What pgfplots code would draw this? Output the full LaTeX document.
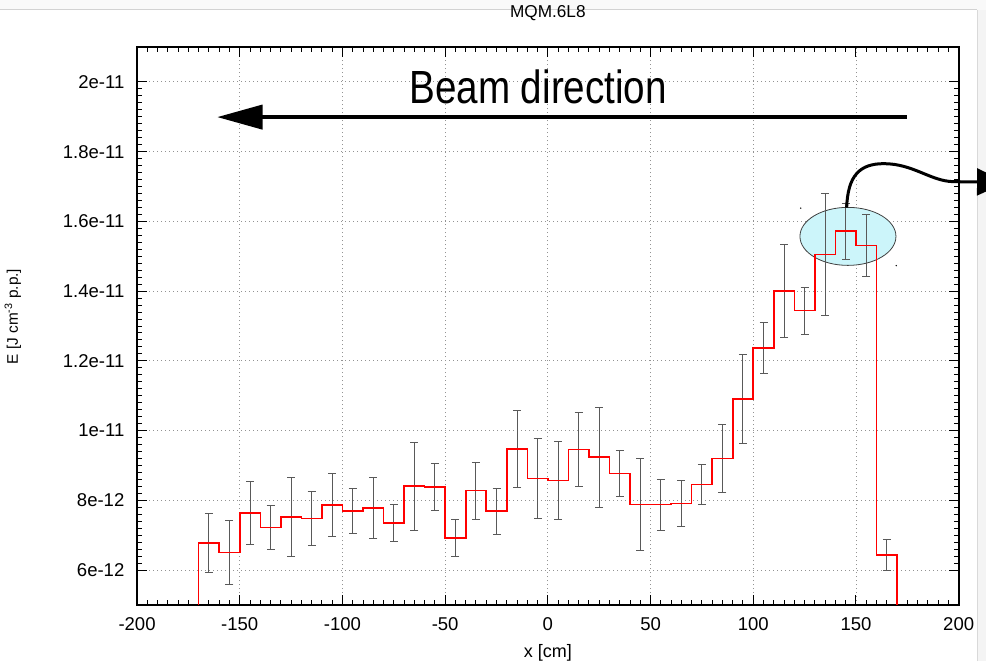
\documentclass[border=0pt]{standalone}
\usepackage{fontspec}
\setmainfont{Liberation Sans}
\usepackage{graphicx}
\usepackage{pgfplots}
\usepackage{pgfplotstable}
\pgfplotsset{compat=1.18}
\usetikzlibrary{arrows.meta}
\definecolor{ellfill}{RGB}{204,245,250}

% energy density in units of 1e-12 J cm^-3 p.p.
\pgfplotstableread{
x y e
-165 6.77 0.85
-155 6.51 0.92
-145 7.64 0.90
-135 7.22 0.62
-125 7.53 1.14
-115 7.48 0.78
-105 7.87 0.90
-95 7.70 0.64
-85 7.78 0.87
-75 7.35 0.53
-65 8.41 1.26
-55 8.39 0.67
-45 6.92 0.52
-35 8.28 0.82
-25 7.69 0.66
-15 9.47 1.10
-5 8.63 1.15
5 8.57 1.13
15 9.46 1.07
25 9.24 1.43
35 8.77 0.67
45 7.88 1.32
55 7.88 0.73
65 7.91 0.66
75 8.45 0.57
85 9.20 0.97
95 10.90 1.27
105 12.37 0.72
115 14.00 1.34
125 13.44 0.67
135 15.05 1.74
145 15.72 0.80
155 15.31 0.88
165 6.44 0.44
}\errdata

\pgfplotstableread{
x y
-170 5
-170 6.77
-160 6.51
-150 7.64
-140 7.22
-130 7.53
-120 7.48
-110 7.87
-100 7.70
-90 7.78
-80 7.35
-70 8.41
-60 8.39
-50 6.92
-40 8.28
-30 7.69
-20 9.47
-10 8.63
0 8.57
10 9.46
20 9.24
30 8.77
40 7.88
50 7.88
60 7.91
70 8.45
80 9.20
90 10.90
100 12.37
110 14.00
120 13.44
130 15.05
140 15.72
150 15.31
160 6.44
170 5
}\stepdata

\begin{document}
\begin{tikzpicture}
\useasboundingbox (-102.8pt,-42pt) rectangle (636.7pt,453.75pt);
% window frame artefacts
\fill[gray!5] (-102.8pt,446.25pt) rectangle (636.7pt,453.75pt);
\draw[gray!35, line width=0.75pt] (-102.8pt,446.25pt) -- (629.9pt,446.25pt);
\fill[gray!9] (629.9pt,-42pt) rectangle (636.7pt,446.25pt);
\draw[gray!30, line width=0.6pt] (629.9pt,-42pt) -- (629.9pt,446.25pt);

\begin{axis}[
  at={(0,0)}, anchor=south west,
  scale only axis, width=616.2pt, height=418.5pt,
  xmin=-200, xmax=200, ymin=5, ymax=21,
  xtick={-200,-150,...,200}, minor x tick num=9,
  ytick={6,8,...,20},
  yticklabels={6e-12,8e-12,1e-11,1.2e-11,1.4e-11,1.6e-11,1.8e-11,2e-11},
  minor y tick num=9,
  tick align=inside,
  major tick length=7.5pt, minor tick length=3.75pt,
  every tick/.style={black, line width=0.75pt},
  axis line style={line width=1.5pt},
  grid=major,
  major grid style={gray!85, line width=0.6pt, dash pattern=on 0.8pt off 2.2pt},
  tick label style={font=\fontsize{13.9}{16}\selectfont},
  /pgf/number format/assume math mode=true,
  xticklabel style={yshift=-6pt},
  yticklabel style={xshift=-6pt},
  title={MQM.6L8},
  title style={at={(axis description cs:0.5,1)}, anchor=base, yshift=16pt, font=\fontsize{12.9}{15}\selectfont},
  xlabel={x [cm]},
  xlabel style={at={(axis description cs:0.5,0)}, anchor=base, yshift=-39.2pt, font=\fontsize{13.5}{16}\selectfont},
  ylabel={E [J cm\textsuperscript{-3} p.p.]},
  ylabel style={at={(axis description cs:-0.145,0.517)}, anchor=base, font=\fontsize{11.5}{13}\selectfont},
]
\draw[fill=ellfill, draw=gray!50!black, line width=0.6pt] (axis cs:146.1,15.57) ellipse [x radius=36pt, y radius=21.75pt];
\fill (axis cs:123.1,16.38) circle[radius=0.6pt];
\fill (axis cs:169.6,14.73) circle[radius=0.6pt];

\addplot[draw=none, mark=none, forget plot,
  error bars/.cd, y dir=both, y explicit, error mark=-,
  error bar style={draw=black!65, solid, line width=0.75pt},
  error mark options={draw=black!65, solid, line width=0.75pt, mark size=3pt, rotate=90}]
  table[x=x, y=y, y error=e] {\errdata};

\addplot[draw=red, line width=1.2pt, const plot, mark=none] table[x=x, y=y] {\stepdata};

\draw[line width=3pt, -{Triangle[length=34pt,width=18pt]}] (axis cs:174.8,18.99) -- (axis cs:-161,18.99);
\node[anchor=base, inner sep=0pt, font=\fontsize{34.9}{40}\selectfont] at (axis cs:-4.7,19.39) {\scalebox{0.83}[1]{Beam direction}};
\end{axis}

\draw[line width=2.25pt, -{Triangle[length=22pt,width=20pt]}]
  (532.2pt,298pt) .. controls (533pt,322pt) and (542pt,331pt) .. (560pt,331pt)
  .. controls (582pt,331pt) and (595pt,318pt) .. (612pt,317.5pt) -- (652pt,317pt);
\end{tikzpicture}
\end{document}
